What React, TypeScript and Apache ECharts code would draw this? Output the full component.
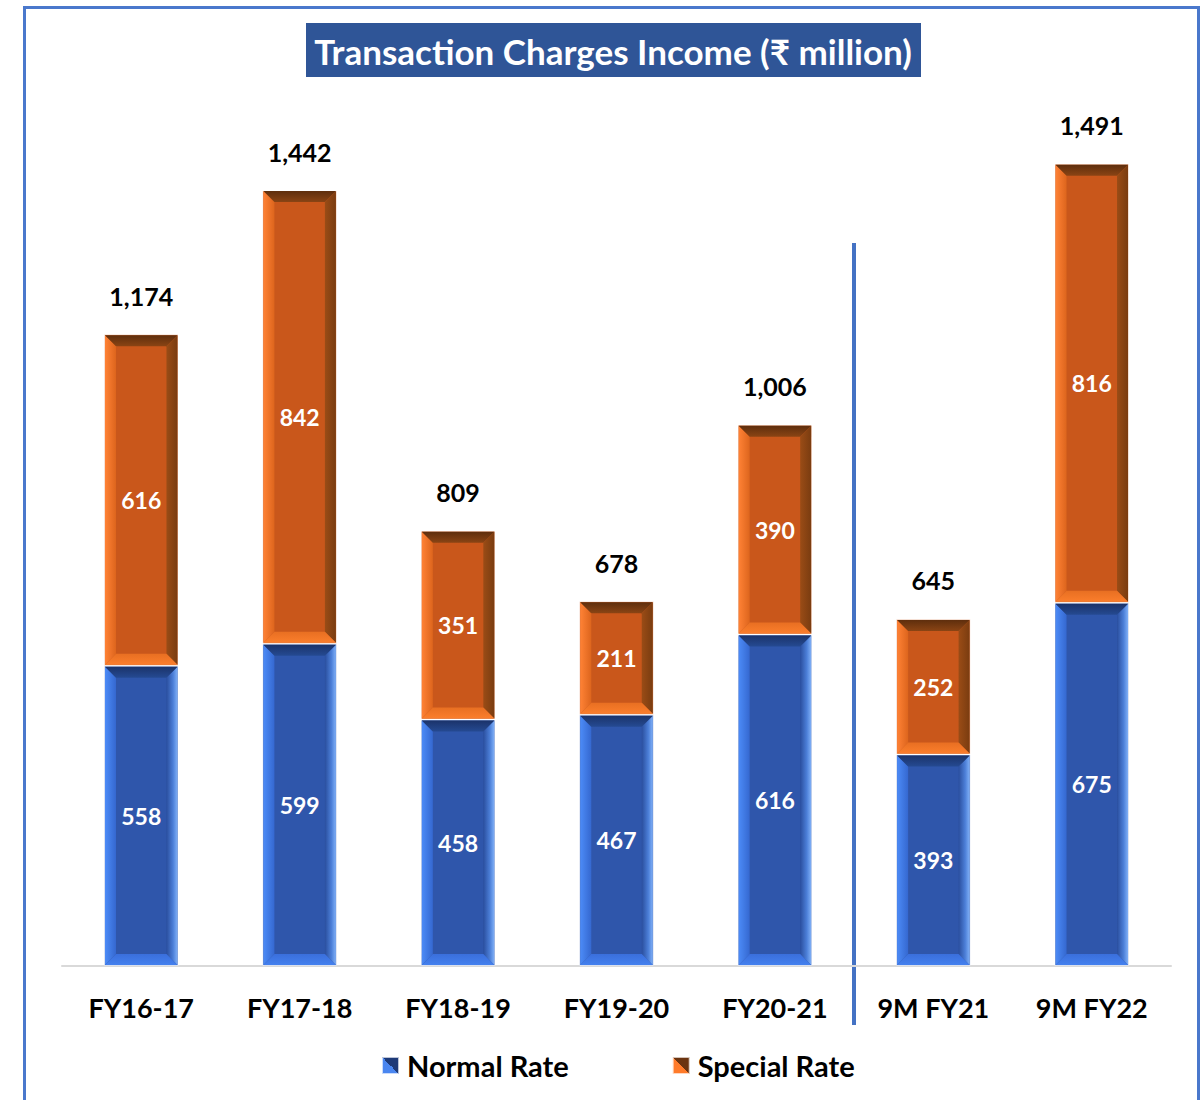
import React, { useEffect, useRef } from "react";
import * as echarts from "echarts";

const categories = ["FY16-17", "FY17-18", "FY18-19", "FY19-20", "FY20-21", "9M FY21", "9M FY22"];
const normalRate = [558, 599, 458, 467, 616, 393, 675];
const specialRate = [616, 842, 351, 211, 390, 252, 816];
const totals = [1174, 1442, 809, 678, 1006, 645, 1491];

const FONT = "Lato, 'Noto Sans', sans-serif";
const BLUE = "#2F56AB";
const ORANGE = "#C9571B";

const lg = (x2: number, y2: number, stops: [number, string][]) =>
  new echarts.graphic.LinearGradient(0, 0, x2, y2, stops.map(([offset, color]) => ({ offset, color })));

const bevelColors: Record<string, any> = {
  normal: {
    top: lg(0, 1, [[0, "#1B336A"], [1, "#254A92"]]),
    bottom: lg(0, 1, [[0, "#3A6FDC"], [1, "#4480EE"]]),
    left: lg(1, 0, [[0, "#4C8BF7"], [1, "#3568D0"]]),
    right: lg(1, 0, [[0, "#2A4E9E"], [0.6, "#4C7FD8"], [1, "#80B0F7"]]),
  },
  special: {
    top: lg(0, 1, [[0, "#5E2E0D"], [1, "#8A4414"]]),
    bottom: lg(0, 1, [[0, "#E86F22"], [1, "#FB7E2C"]]),
    left: lg(1, 0, [[0, "#FF8235"], [1, "#DD651D"]]),
    right: lg(1, 0, [[0, "#9A4C16"], [1, "#7A3C10"]]),
  },
};

const bevelData: any[] = [];
categories.forEach((_, i) => {
  bevelData.push([i, 0, normalRate[i], 0]);
  bevelData.push([i, normalRate[i], totals[i], 1]);
});

const totalData = totals.map((v, i) => [i, v]);

const legendIcon = (bright: string, dark: string) =>
  new echarts.graphic.LinearGradient(0, 1, 1, 0, [
    { offset: 0, color: bright },
    { offset: 0.5, color: bright },
    { offset: 0.5, color: dark },
    { offset: 1, color: dark },
  ]);

export default function App() {
  const ref = useRef<HTMLDivElement>(null);
  useEffect(() => {
    const chart = echarts.init(ref.current!, undefined, { renderer: "svg" });
    const option: any = {
      animation: false,
      backgroundColor: "#ffffff",
      grid: { left: 62, right: 30, top: 105, bottom: 134, containLabel: false },
      xAxis: {
        type: "category",
        data: categories,
        axisLine: { lineStyle: { color: "#D9D9D9", width: 2 } },
        axisTick: { show: false },
        axisLabel: { color: "#000", fontFamily: FONT, fontWeight: "bold", fontSize: 27, margin: 28 },
      },
      yAxis: { type: "value", min: 0, max: 1600, show: false, splitLine: { show: false } },
      legend: {
        left: 381,
        top: 1051,
        padding: 0,
        icon: "rect",
        itemWidth: 17,
        itemHeight: 17,
        itemGap: 103,
        textStyle: { color: "#000", fontFamily: FONT, fontWeight: "bold", fontSize: 29, padding: [0, 0, 0, 3] },
        data: [
          { name: "Normal Rate", itemStyle: { color: legendIcon("#4A86F0", "#1E3A78") } },
          { name: "Special Rate", itemStyle: { color: legendIcon("#FF7B2A", "#6B3410") } },
        ],
      },
      series: [
        {
          name: "Normal Rate",
          type: "bar",
          stack: "t",
          barWidth: "47%",
          data: normalRate,
          itemStyle: { color: BLUE, borderColor: "rgba(255,255,255,0.7)", borderWidth: 1 },
          label: { show: true, position: "inside", color: "#fff", fontFamily: FONT, fontWeight: "bold", fontSize: 23 },
        },
        {
          name: "Special Rate",
          type: "bar",
          stack: "t",
          barWidth: "47%",
          data: specialRate,
          itemStyle: { color: ORANGE, borderColor: "rgba(255,255,255,0.7)", borderWidth: 1 },
          label: { show: true, position: "inside", color: "#fff", fontFamily: FONT, fontWeight: "bold", fontSize: 23 },
        },
        {
          name: "bevel",
          type: "custom",
          silent: true,
          z: 3,
          encode: { x: 0, y: [1, 2] },
          data: bevelData,
          renderItem: (params: any, api: any) => {
            const i = api.value(0);
            const lo = api.value(1);
            const hi = api.value(2);
            const kind = api.value(3) === 0 ? "normal" : "special";
            const pLo = api.coord([i, lo]);
            const pHi = api.coord([i, hi]);
            const band = api.size([1, 0])[0];
            const w = band * 0.47;
            const x0 = pLo[0] - w / 2 + 1;
            const x1 = pLo[0] + w / 2 - 1;
            const yT = pHi[1] + 1;
            const yB = pLo[1] - 1;
            const b = 11;
            const c = bevelColors[kind];
            const poly = (points: number[][], fill: any) => ({
              type: "polygon",
              shape: { points },
              style: { fill },
            });
            return {
              type: "group",
              children: [
                poly([[x0, yT], [x0 + b, yT + b], [x0 + b, yB - b], [x0, yB]], c.left),
                poly([[x1, yT], [x1 - b, yT + b], [x1 - b, yB - b], [x1, yB]], c.right),
                poly([[x0, yT], [x1, yT], [x1 - b, yT + b], [x0 + b, yT + b]], c.top),
                poly([[x0, yB], [x1, yB], [x1 - b, yB - b], [x0 + b, yB - b]], c.bottom),
              ],
            };
          },
        },
        {
          name: "Total",
          type: "custom",
          silent: true,
          z: 4,
          encode: { x: 0, y: 1 },
          data: totalData,
          renderItem: (params: any, api: any) => {
            const v = api.value(1);
            const p = api.coord([api.value(0), v]);
            return {
              type: "text",
              x: p[0],
              y: p[1] - 26,
              style: {
                text: Number(v).toLocaleString("en-US"),
                fill: "#000",
                font: `bold 25px ${FONT}`,
                textAlign: "center",
                textVerticalAlign: "bottom",
              },
            };
          },
        },
      ],
      graphic: [
        {
          type: "rect",
          shape: { x: 24.5, y: 7.5, width: 1174, height: 1120 },
          style: { fill: "none", stroke: "#4A78CC", lineWidth: 3 },
          silent: true,
        },
        {
          type: "rect",
          shape: { x: 306, y: 23, width: 615, height: 54 },
          style: { fill: "#2F5597" },
          silent: true,
        },
        {
          type: "text",
          x: 613,
          y: 51,
          style: {
            text: "Transaction Charges Income (₹ million)",
            fill: "#fff",
            font: `bold 35px ${FONT}`,
            textAlign: "center",
            textVerticalAlign: "middle",
          },
          silent: true,
        },
        {
          type: "line",
          shape: { x1: 854, y1: 243, x2: 854, y2: 1025 },
          style: { stroke: "#4472C4", lineWidth: 4 },
          silent: true,
        },
      ],
    };
    chart.setOption(option);
    return () => chart.dispose();
  }, []);
  return (
    <div
      ref={ref}
      style={{ position: "absolute", left: 0, top: 0, width: 1201, height: 1100 }}
    />
  );
}
